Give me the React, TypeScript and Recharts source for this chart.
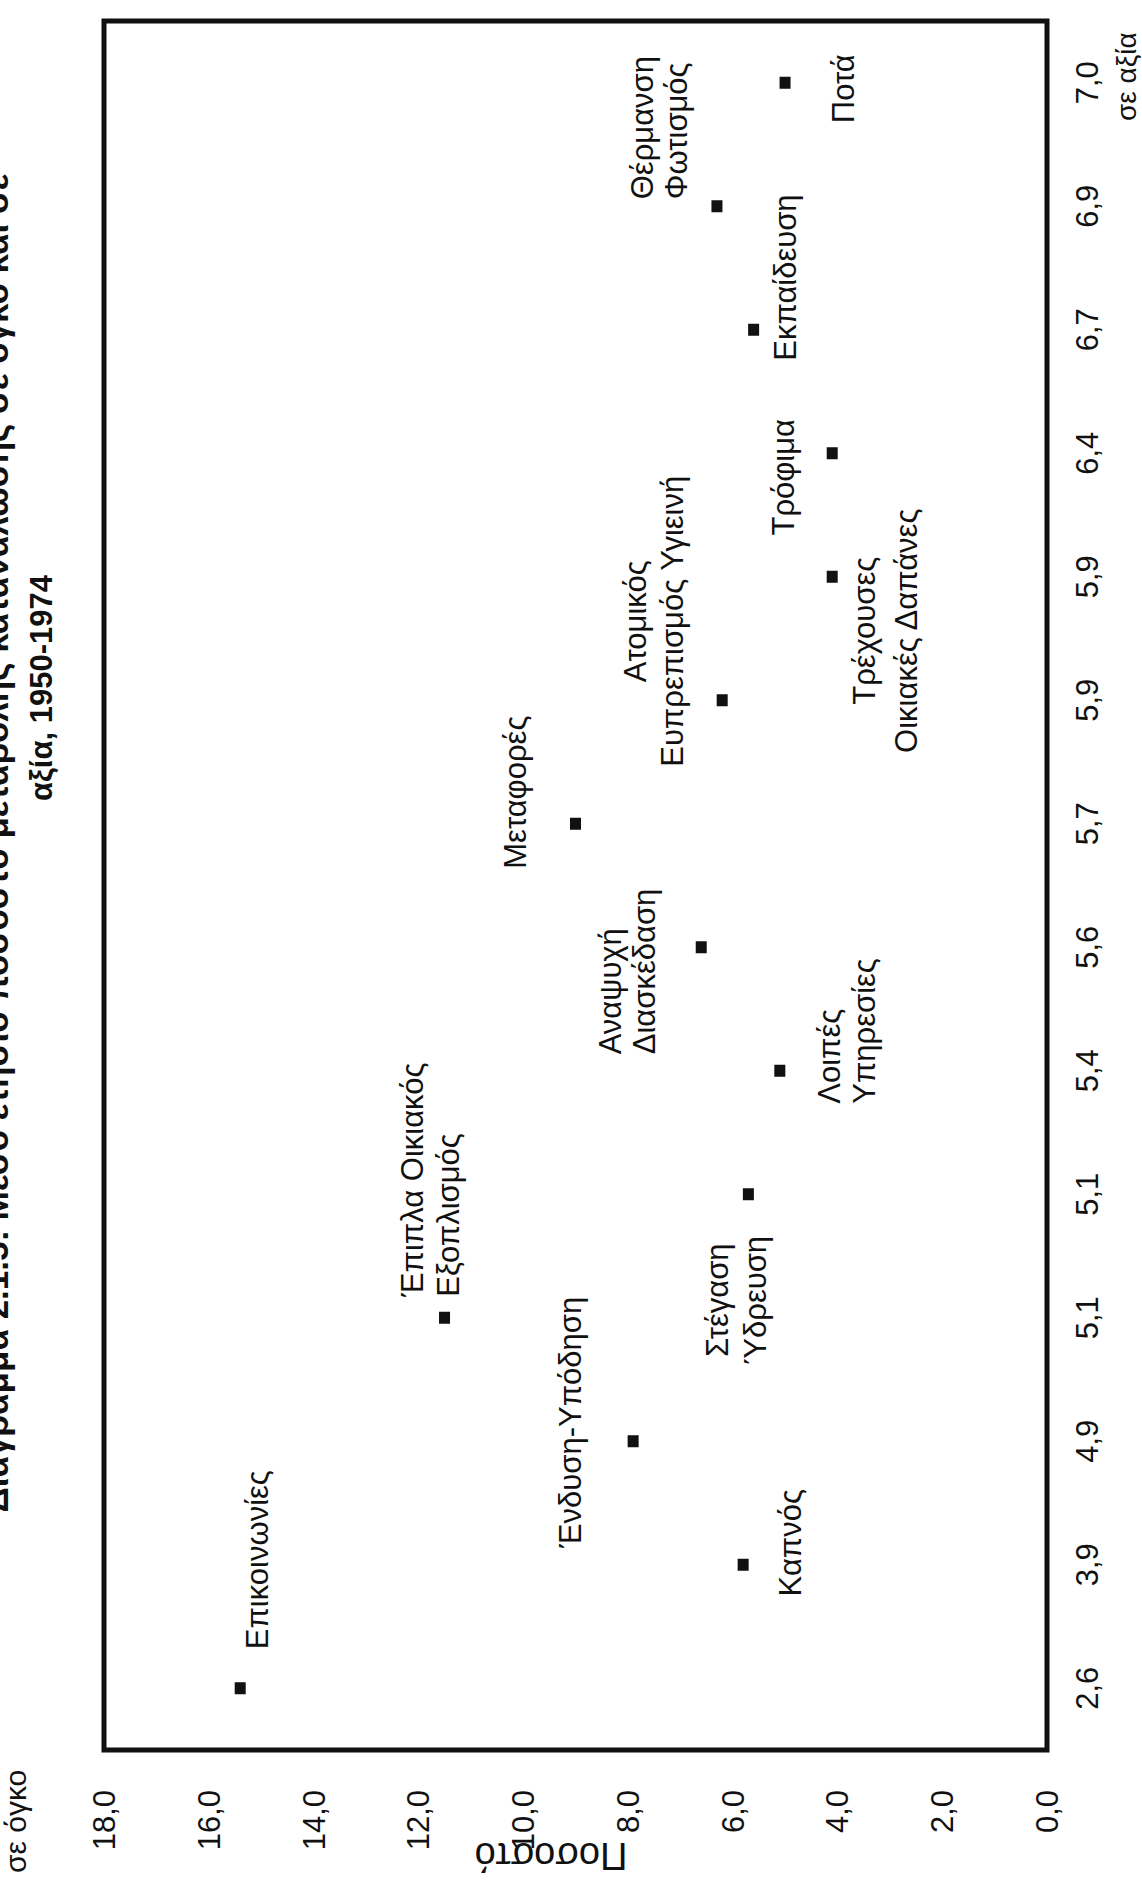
import { ScatterChart, Scatter, XAxis, YAxis, ReferenceArea } from "recharts";

// chart is drawn upright (1885 x 1142) and turned a quarter left, like the scan
const W = 1885;
const H = 1142;

const VALUE_LABELS = ["2,6", "3,9", "4,9", "5,1", "5,1", "5,4", "5,6", "5,7", "5,9", "5,9", "6,4", "6,7", "6,9", "7,0"];
const VOLUME = [15.4, 5.8, 7.9, 11.5, 5.7, 5.1, 6.6, 9.0, 6.2, 4.1, 4.1, 5.6, 6.3, 5.0];
const NAMES = [
  ["Επικοινωνίες"],
  ["Καπνός"],
  ["Ένδυση-Υπόδηση"],
  ["Έπιπλα Οικιακός", "Εξοπλισμός"],
  ["Στέγαση", "Ύδρευση"],
  ["Λοιπές", "Υπηρεσίες"],
  ["Αναψυχή", "Διασκέδαση"],
  ["Μεταφορές"],
  ["Ατομικός", "Ευπρεπισμός Υγιεινή"],
  ["Τρέχουσες", "Οικιακές Δαπάνες"],
  ["Τρόφιμα"],
  ["Εκπαίδευση"],
  ["Θέρμανση", "Φωτισμός"],
  ["Ποτά"],
];
const Y_TICKS = [0, 2, 4, 6, 8, 10, 12, 14, 16, 18];
const X_TICKS = VALUE_LABELS.map((_, i) => i);

// where each label sits relative to its marker
const LABEL_LAYOUT: { dx: number; dy: number; anchor: "start" | "middle" | "end"; lh?: number }[] = [
  { dx: 39, dy: 28, anchor: "start" },
  { dx: 22, dy: 58, anchor: "middle" },
  { dx: 19, dy: -52, anchor: "middle" },
  { dx: 21, dy: -22, anchor: "start", lh: 36 },
  { dx: -106, dy: -20, anchor: "middle", lh: 38 },
  { dx: -33, dy: 60, anchor: "start", lh: 35 },
  { dx: -107, dy: -80, anchor: "start", lh: 34 },
  { dx: -45, dy: -50, anchor: "start" },
  { dx: 79, dy: -76, anchor: "middle", lh: 37 },
  { dx: -54, dy: 43, anchor: "middle", lh: 42 },
  { dx: -24, dy: -38, anchor: "middle" },
  { dx: -31, dy: 42, anchor: "start" },
  { dx: 7, dy: -64, anchor: "start", lh: 34 },
  { dx: -6, dy: 69, anchor: "middle" },
];

const AXIS_FONT = "'Liberation Sans Narrow', 'Arial Narrow', 'Liberation Sans', Arial, sans-serif";
const LABEL_FONT = "'Liberation Sans', Arial, sans-serif";

const points = VOLUME.map((v, i) => ({ idx: i, vol: v, lines: NAMES[i] }));

const fmt = (v: number) => v.toFixed(1).replace(".", ",");

function Marker(props: any) {
  const { cx, cy, payload } = props;
  if (typeof cx !== "number" || typeof cy !== "number") return null;
  const lay = LABEL_LAYOUT[payload.idx];
  const lh = lay.lh ?? 36;
  return (
    <g>
      <rect x={cx - 6} y={cy - 5.5} width={12} height={11} fill="#111" />
      <text textAnchor={lay.anchor} fontSize={31} fontFamily={LABEL_FONT} fill="#111">
        {payload.lines.map((t: string, k: number) => (
          <tspan key={k} x={cx + lay.dx} y={cy + lay.dy + k * lh}>
            {t}
          </tspan>
        ))}
      </text>
    </g>
  );
}

export default function App() {
  return (
    <div style={{ position: "absolute", left: 0, top: 0, width: H, height: W, overflow: "hidden", background: "#fff" }}>
      <div
        style={{
          position: "absolute",
          left: 0,
          top: 0,
          width: W,
          height: H,
          transformOrigin: "0 0",
          transform: `translateY(${W}px) rotate(-90deg)`,
        }}
      >
        <ScatterChart width={W} height={H} margin={{ top: 104, right: 21, bottom: 0, left: 0 }}>
          <XAxis
            type="number"
            dataKey="idx"
            domain={[-0.5, 13.5]}
            ticks={X_TICKS}
            interval={0}
            tickFormatter={(i: number) => VALUE_LABELS[i] ?? ""}
            axisLine={false}
            tickLine={false}
            tickMargin={23}
            height={95}
            tick={{ fontSize: 31, fill: "#111", fontFamily: AXIS_FONT }}
          />
          <YAxis
            type="number"
            dataKey="vol"
            domain={[0, 18]}
            ticks={Y_TICKS}
            interval={0}
            tickFormatter={fmt}
            axisLine={false}
            tickLine={false}
            tickMargin={34}
            width={135}
            tick={{ fontSize: 31, fill: "#111", fontFamily: AXIS_FONT }}
          />
          <ReferenceArea x1={-0.5} x2={13.5} y1={0} y2={18} fill="none" stroke="#111" strokeWidth={5} ifOverflow="visible" />
          <Scatter data={points} shape={Marker} isAnimationActive={false} />
        </ScatterChart>
        <svg width={W} height={H} style={{ position: "absolute", left: 0, top: 0, pointerEvents: "none" }}>
          <g fontFamily={LABEL_FONT} fill="#111">
            <text x={1042} y={8} textAnchor="middle" fontSize={35} fontWeight="bold">
              Διάγραμμα 2.1.5: Μέσο ετήσιο ποσοστό μεταβολής κατανάλωσης σε όγκο και σε
            </text>
            <text x={1197} y={52} textAnchor="middle" fontSize={31} fontWeight="bold" fontFamily={AXIS_FONT}>
              αξία, 1950-1974
            </text>
          </g>
          <g fontFamily={AXIS_FONT} fill="#111">
            <text x={12} y={26} fontSize={30}>σε όγκο</text>
            <text x={1764} y={1136} fontSize={28}>σε αξία</text>
            <text transform="translate(42 551) rotate(-90)" textAnchor="middle" fontSize={38} fontFamily={LABEL_FONT}>
              Ποσοστό
            </text>
          </g>
        </svg>
      </div>
    </div>
  );
}
